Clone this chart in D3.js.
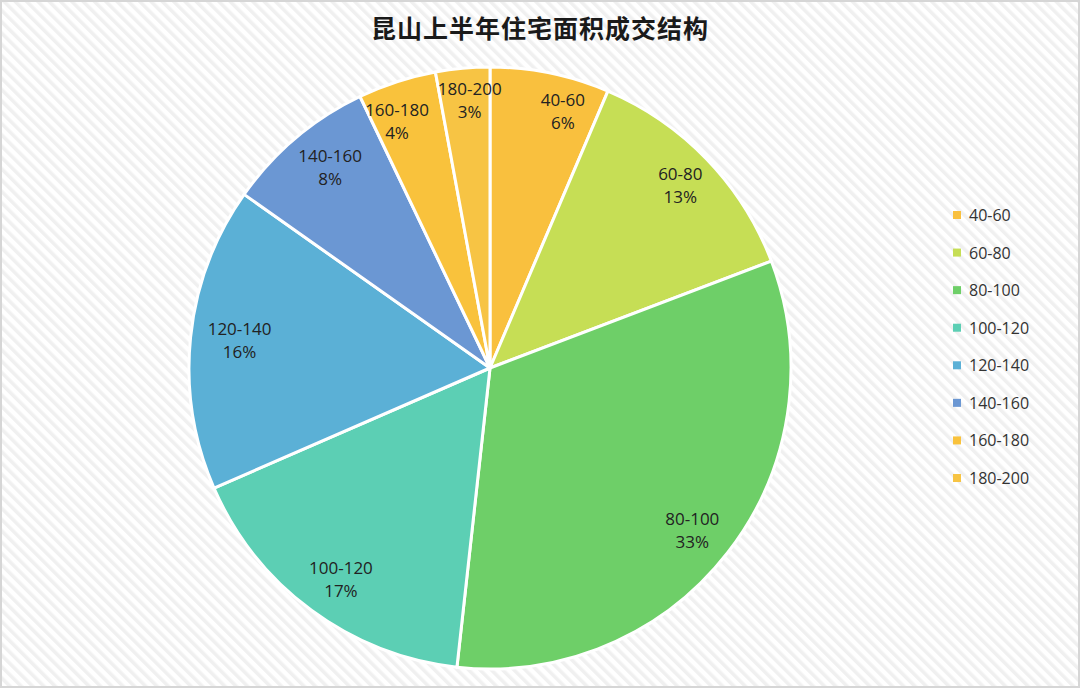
<!DOCTYPE html>
<html>
<head>
<meta charset="utf-8">
<script src="https://cdn.jsdelivr.net/npm/d3@7/dist/d3.min.js"></script>
<style>
html,body{margin:0;padding:0;background:#fff;}
svg{display:block;}
</style>
</head>
<body>
<svg id="chart" width="1080" height="688"></svg>
<script>
const title = "昆山上半年住宅面积成交结构";
const categories = ["40-60","60-80","80-100","100-120","120-140","140-160","160-180","180-200"];
const values = [6.4, 12.8, 32.5, 16.7, 16.3, 8.1, 4.2, 2.9];
const percentLabels = ["6%","13%","33%","17%","16%","8%","4%","3%"];
const colors = ["#F9C03E","#C6DE55","#6ECF68","#5CCFB4","#5BB0D6","#6B97D3","#F9C23C","#F7C444"];

// label layout (radius and angular nudge in degrees)
const labelR = [267,264,259,258,252,257,264,269];
const labelNudge = [4.3,0,0.9,-1.1,0.5,1.7,-2.6,0.9];

const W = 1080, H = 688;
const svg = d3.select("#chart");
const defs = svg.append("defs");
const pat = defs.append("pattern").attr("id","hatch").attr("patternUnits","userSpaceOnUse")
  .attr("width",8).attr("height",8).attr("patternTransform","rotate(-45)");
pat.append("rect").attr("width",8).attr("height",8).attr("fill","#ffffff");
pat.append("rect").attr("x",0).attr("width",3.5).attr("height",8).attr("fill","#f0f0f0");

svg.append("rect").attr("x",0).attr("y",0).attr("width",W).attr("height",H).attr("fill","url(#hatch)");
svg.append("rect").attr("x",1).attr("y",1).attr("width",W-2).attr("height",H-2)
  .attr("fill","none").attr("stroke","#d6d6d6").attr("stroke-width",2);

svg.append("text").attr("x",540).attr("y",38).attr("text-anchor","middle")
  .attr("font-family","'Noto Sans CJK SC', sans-serif").attr("font-weight","bold")
  .attr("font-size",25).attr("fill","#1a1a1a").attr("letter-spacing","1").text(title);

const cx = 490, cy = 368, R = 301;
const data = categories.map((c,i)=>({cat:c, v:values[i], p:percentLabels[i], col:colors[i]}));
const pie = d3.pie().value(d=>d.v).sort(null);
const arcs = pie(data);
const arc = d3.arc().innerRadius(0).outerRadius(R);
const g = svg.append("g").attr("transform",`translate(${cx},${cy})`);
g.selectAll("path").data(arcs).join("path")
  .attr("d",arc).attr("fill",d=>d.data.col)
  .attr("stroke","#ffffff").attr("stroke-width",3).attr("stroke-linejoin","round");

const lab = g.selectAll("g.lab").data(arcs).join("g").attr("class","lab")
  .attr("transform",(d,i)=>{
    const a=(d.startAngle+d.endAngle)/2 + labelNudge[i]*Math.PI/180;
    const r=labelR[i];
    return `translate(${r*Math.sin(a)},${-r*Math.cos(a)})`;
  });
lab.append("text").attr("text-anchor","middle").attr("y",-5)
  .attr("font-family","'Open Sans', sans-serif").attr("font-size",17).attr("fill","#222")
  .text(d=>d.data.cat);
lab.append("text").attr("text-anchor","middle").attr("y",18)
  .attr("font-family","'Open Sans', sans-serif").attr("font-size",17).attr("fill","#222")
  .text(d=>d.data.p);

const ly = d3.scalePoint().domain(categories).range([215,478]);
const leg = svg.append("g").selectAll("g").data(data).join("g")
  .attr("transform",d=>`translate(953,${ly(d.cat)})`);
leg.append("rect").attr("x",0).attr("y",-4).attr("width",8).attr("height",8).attr("fill",d=>d.col);
leg.append("text").attr("x",16).attr("y",6)
  .attr("font-family","'Open Sans', sans-serif").attr("font-size",16).attr("fill","#333")
  .text(d=>d.cat);
</script>
</body>
</html>
